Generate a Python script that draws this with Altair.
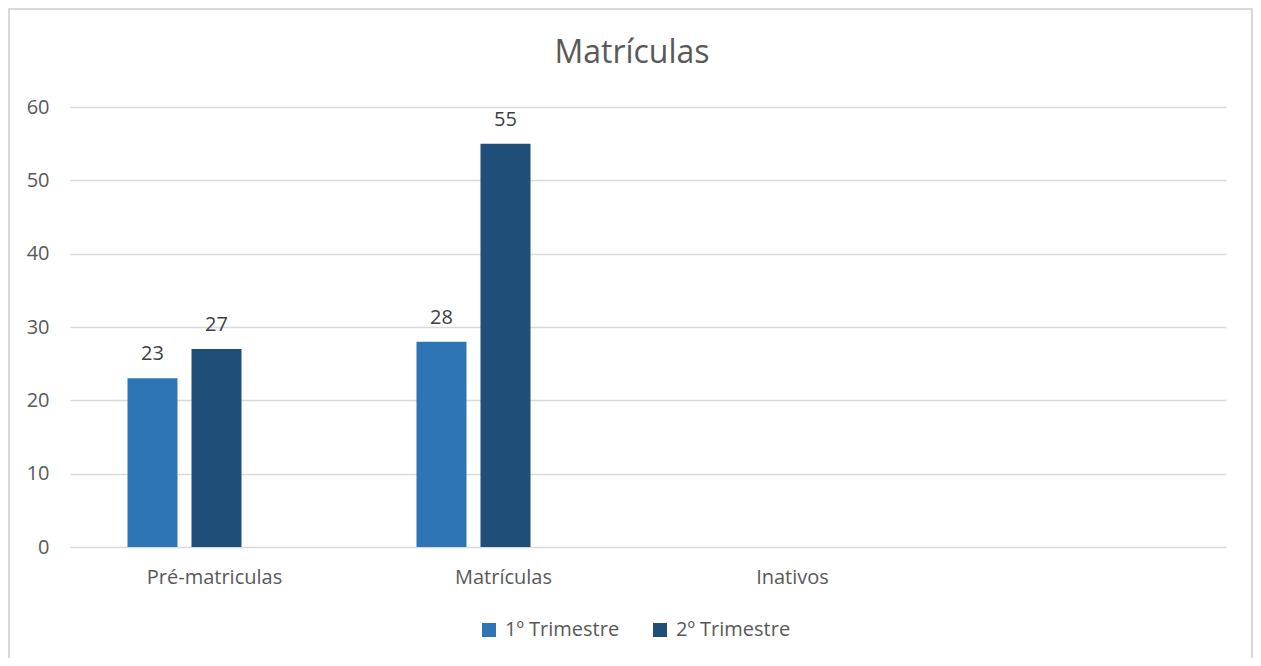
import altair as alt
import pandas as pd

chart_title = "Matrículas"
categories = ["Pré-matriculas", "Matrículas", "Inativos", " "]
series = ["1º Trimestre", "2º Trimestre"]
offset_slots = ["1º Trimestre", "2º Trimestre", "3º Trimestre"]
trim1 = [23, 28, None]
trim2 = [27, 55, None]
colors = ["#2E75B6", "#1F4E79"]
y_ticks = [0, 10, 20, 30, 40, 50, 60]

rows = []
for i, cat in enumerate(categories[:3]):
    for s, vals in zip(series, [trim1, trim2]):
        if vals[i] is not None:
            rows.append({"cat": cat, "serie": s, "valor": vals[i]})
df = pd.DataFrame(rows)

FONT = "Open Sans"

x_enc = alt.X("cat:N", sort=categories,
              scale=alt.Scale(domain=categories, paddingInner=0, paddingOuter=0),
              axis=alt.Axis(title=None, labelAngle=0, labelFontSize=20, labelColor="#595959",
                            labelFont=FONT, labelPadding=20, ticks=False, domain=False, grid=False))
xoff_enc = alt.XOffset("serie:N", scale=alt.Scale(domain=offset_slots, paddingInner=0.21875,
                                                  paddingOuter=0.867, align=0.518))
y_enc = alt.Y("valor:Q", scale=alt.Scale(domain=[0, 60], nice=False),
              axis=alt.Axis(title=None, values=y_ticks, labelFontSize=20, labelColor="#595959",
                            labelFont=FONT, labelPadding=21, ticks=False, domain=False,
                            grid=True, gridColor="#d9d9d9", gridWidth=1.5))

bars = alt.Chart(df).mark_bar().encode(
    x=x_enc,
    xOffset=xoff_enc,
    y=y_enc,
    color=alt.Color("serie:N", scale=alt.Scale(domain=series, range=colors),
                    legend=alt.Legend(title=None, orient="none", direction="horizontal",
                                      legendX=409, legendY=513, symbolType="square",
                                      symbolSize=196, symbolStrokeWidth=0, labelFontSize=20,
                                      labelFont=FONT, labelColor="#595959", labelOffset=6,
                                      columnPadding=30, padding=0)),
)

labels = alt.Chart(df).mark_text(baseline="alphabetic", dy=-18, fontSize=20, font=FONT,
                                 color="#404040").encode(
    x=alt.X("cat:N", sort=categories),
    xOffset="serie:N",
    y="valor:Q",
    text="valor:Q",
)

one = pd.DataFrame({"t": [chart_title]})

border = alt.Chart(one).mark_rect(
    fill=None, stroke="#d9d9d9", strokeWidth=2).encode(
    x=alt.value(-61), x2=alt.value(1182), y=alt.value(-98), y2=alt.value(600))

title = alt.Chart(one).mark_text(fontSize=32, font=FONT, color="#595959",
                                 baseline="alphabetic", align="center").encode(
    x=alt.value(562), y=alt.value(-44), text="t:N")

chart = alt.layer(border, title, bars, labels).properties(
    width=1156, height=440,
    autosize=alt.AutoSizeParams(type="none"),
    padding={"left": 62, "top": 99, "right": 27, "bottom": 111},
).configure(background="white").configure_view(stroke="transparent", strokeWidth=0)

chart.save("out.html", embed_options={"renderer": "svg", "actions": False})
